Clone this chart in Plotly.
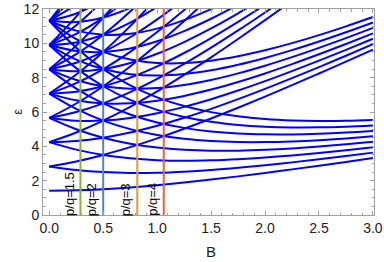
import plotly.graph_objects as go

# Magnetic field grid (x values)
B = [0.0, 0.25, 0.5, 0.75, 1.0, 1.25, 1.5, 1.75, 2.0, 2.25, 2.5, 2.75, 3.0]

# Energy levels epsilon(B) (one list per curve; truncated once off the top)
E_1_0 = [1.414, 1.436, 1.5, 1.601, 1.732, 1.887, 2.062, 2.25, 2.449, 2.658, 2.872, 3.092, 3.317]
E_2_p1 = [2.828, 2.622, 2.5, 2.452, 2.464, 2.525, 2.623, 2.75, 2.899, 3.065, 3.245, 3.435, 3.633]
E_2_m1 = [2.828, 3.122, 3.5, 3.952, 4.464, 5.025, 5.623, 6.25, 6.899, 7.565, 8.245, 8.935, 9.633]
E_3_0 = [4.243, 4.308, 4.5, 4.802, 5.196, 5.662, 6.185, 6.75, 7.348, 7.973, 8.617, 9.277, 9.950]
E_3_p2 = [4.243, 3.808, 3.5, 3.302, 3.196, 3.162, 3.185, 3.25, 3.348, 3.473, 3.617, 3.777, 3.950]
E_3_m2 = [4.243, 4.808, 5.5, 6.302, 7.196, 8.162, 9.185, 10.25, 11.348, 12.473]
E_4_p3 = [5.657, 4.995, 4.5, 4.153, 3.928, 3.800, 3.746, 3.75, 3.798, 3.880, 3.989, 4.119, 4.266]
E_4_p1 = [5.657, 5.495, 5.5, 5.653, 5.928, 6.300, 6.746, 7.25, 7.798, 8.380, 8.989, 9.619, 10.266]
E_4_m1 = [5.657, 5.995, 6.5, 7.153, 7.928, 8.800, 9.746, 10.75, 11.798, 12.880]
E_4_m3 = [5.657, 6.495, 7.5, 8.653, 9.928, 11.300, 12.746]
E_5_p4 = [7.071, 6.181, 5.5, 5.004, 4.660, 4.437, 4.308, 4.25, 4.247, 4.288, 4.361, 4.462, 4.583]
E_5_p2 = [7.071, 6.681, 6.5, 6.504, 6.660, 6.937, 7.308, 7.75, 8.247, 8.788, 9.361, 9.962, 10.583]
E_5_0 = [7.071, 7.181, 7.5, 8.004, 8.660, 9.437, 10.308, 11.25, 12.247]
E_5_m2 = [7.071, 7.681, 8.5, 9.504, 10.660, 11.937, 13.308]
E_5_m4 = [7.071, 8.181, 9.5, 11.004, 12.660]
E_6_p5 = [8.485, 7.367, 6.5, 5.855, 5.392, 5.075, 4.869, 4.75, 4.697, 4.695, 4.734, 4.804, 4.900]
E_6_p3 = [8.485, 7.867, 7.5, 7.355, 7.392, 7.575, 7.869, 8.25, 8.697, 9.195, 9.734, 10.304, 10.900]
E_6_p1 = [8.485, 8.367, 8.5, 8.855, 9.392, 10.075, 10.869, 11.75, 12.697]
E_6_m1 = [8.485, 8.867, 9.5, 10.355, 11.392, 12.575]
E_6_m3 = [8.485, 9.367, 10.5, 11.855, 13.392]
E_6_m5 = [8.485, 9.867, 11.5, 13.355]
E_7_p6 = [9.899, 8.553, 7.5, 6.705, 6.124, 5.712, 5.431, 5.25, 5.146, 5.103, 5.106, 5.146, 5.216]
E_7_p4 = [9.899, 9.053, 8.5, 8.205, 8.124, 8.212, 8.431, 8.75, 9.146, 9.603, 10.106, 10.646, 11.216]
E_7_p2 = [9.899, 9.553, 9.5, 9.705, 10.124, 10.712, 11.431, 12.25]
E_7_0 = [9.899, 10.053, 10.5, 11.205, 12.124]
E_7_m2 = [9.899, 10.553, 11.5, 12.705]
E_7_m4 = [9.899, 11.053, 12.5]
E_7_m6 = [9.899, 11.553, 13.5]
E_8_p7 = [11.314, 9.739, 8.5, 7.556, 6.856, 6.350, 5.992, 5.75, 5.596, 5.510, 5.478, 5.489, 5.533]
E_8_p5 = [11.314, 10.239, 9.5, 9.056, 8.856, 8.850, 8.992, 9.25, 9.596, 10.010, 10.478, 10.989, 11.533]
E_8_p3 = [11.314, 10.739, 10.5, 10.556, 10.856, 11.350, 11.992, 12.75]
E_8_p1 = [11.314, 11.239, 11.5, 12.056]
E_8_m1 = [11.314, 11.739, 12.5]
E_8_m3 = [11.314, 12.239]
E_8_m5 = [11.314, 12.739]
E_8_m7 = [11.314, 13.239]

curves = [E_1_0, E_2_p1, E_2_m1, E_3_0, E_3_p2, E_3_m2, E_4_p3, E_4_p1, E_4_m1, E_4_m3,
          E_5_p4, E_5_p2, E_5_0, E_5_m2, E_5_m4, E_6_p5, E_6_p3, E_6_p1, E_6_m1, E_6_m3,
          E_6_m5, E_7_p6, E_7_p4, E_7_p2, E_7_0, E_7_m2, E_7_m4, E_7_m6, E_8_p7, E_8_p5,
          E_8_p3, E_8_p1, E_8_m1, E_8_m3, E_8_m5, E_8_m7]

# Marked field values and their labels
vline_B = [0.289, 0.5, 0.816, 1.061]
vline_labels = ["p/q=1.5", "p/q=2", "p/q=3", "p/q=4"]
vline_colors = ["#8FB032", "#5E81B5", "#E19C24", "#EB6235"]
vline_span = [0, 12]

x_ticks = [0.0, 0.5, 1.0, 1.5, 2.0, 2.5, 3.0]
x_ticktext = ["0.0", "0.5", "1.0", "1.5", "2.0", "2.5", "3.0"]
y_ticks = [0, 2, 4, 6, 8, 10, 12]
x_title = "B"
y_title = "ε"

FONT = "Liberation Sans, Arial, sans-serif"

fig = go.Figure()
for c in curves:
    fig.add_trace(go.Scatter(x=B[:len(c)], y=c, mode="lines",
                             line=dict(color="#0000FF", width=2, shape="spline"),
                             showlegend=False, hoverinfo="skip"))

for xb, col in zip(vline_B, vline_colors):
    fig.add_trace(go.Scatter(x=[xb, xb], y=vline_span, mode="lines",
                             line=dict(color=col, width=2), showlegend=False, hoverinfo="skip"))

for xb, lab in zip(vline_B, vline_labels):
    fig.add_annotation(x=xb, y=0, text=lab, textangle=-90, showarrow=False,
                       xanchor="right", yanchor="bottom", xshift=-3, yshift=-2,
                       borderpad=0,
                       font=dict(family=FONT, size=13, color="#000000"))

# Axis titles placed as annotations (axis title standoff is ignored without automargin)
fig.add_annotation(x=0.5075, y=-0.177, xref="paper", yref="paper", text=x_title,
                   showarrow=False, xanchor="center", yanchor="middle",
                   font=dict(family=FONT, size=15, color="#222222"))
fig.add_annotation(x=-0.079, y=0.5, xref="paper", yref="paper", text=y_title,
                   textangle=-90, showarrow=False, xanchor="center", yanchor="middle",
                   font=dict(family=FONT, size=13, color="#222222"))

axis_common = dict(showgrid=False, zeroline=False, showline=True, linecolor="#A0A0A0",
                   linewidth=1, mirror="ticks", ticks="inside", tickcolor="#A0A0A0",
                   automargin=False,
                   tickfont=dict(family=FONT, size=14, color="#222222"))

fig.update_layout(
    width=384, height=262,
    margin=dict(l=43, r=10, t=9, b=47, autoexpand=False),
    paper_bgcolor="white", plot_bgcolor="white",
    xaxis=dict(range=[-0.058, 3.01], tickvals=x_ticks, ticktext=x_ticktext, ticklen=4,
               minor=dict(dtick=0.1, tick0=0, ticklen=2.5, ticks="inside", tickcolor="#A0A0A0"),
               **axis_common),
    yaxis=dict(range=[0, 12], tickvals=y_ticks, ticklen=4,
               minor=dict(dtick=0.5, tick0=0, ticklen=2.5, ticks="inside", tickcolor="#A0A0A0"),
               **axis_common),
)

fig.write_html("out.html", config={"displayModeBar": False},
               post_script="document.body.style.margin='0';document.body.style.padding='0';")
